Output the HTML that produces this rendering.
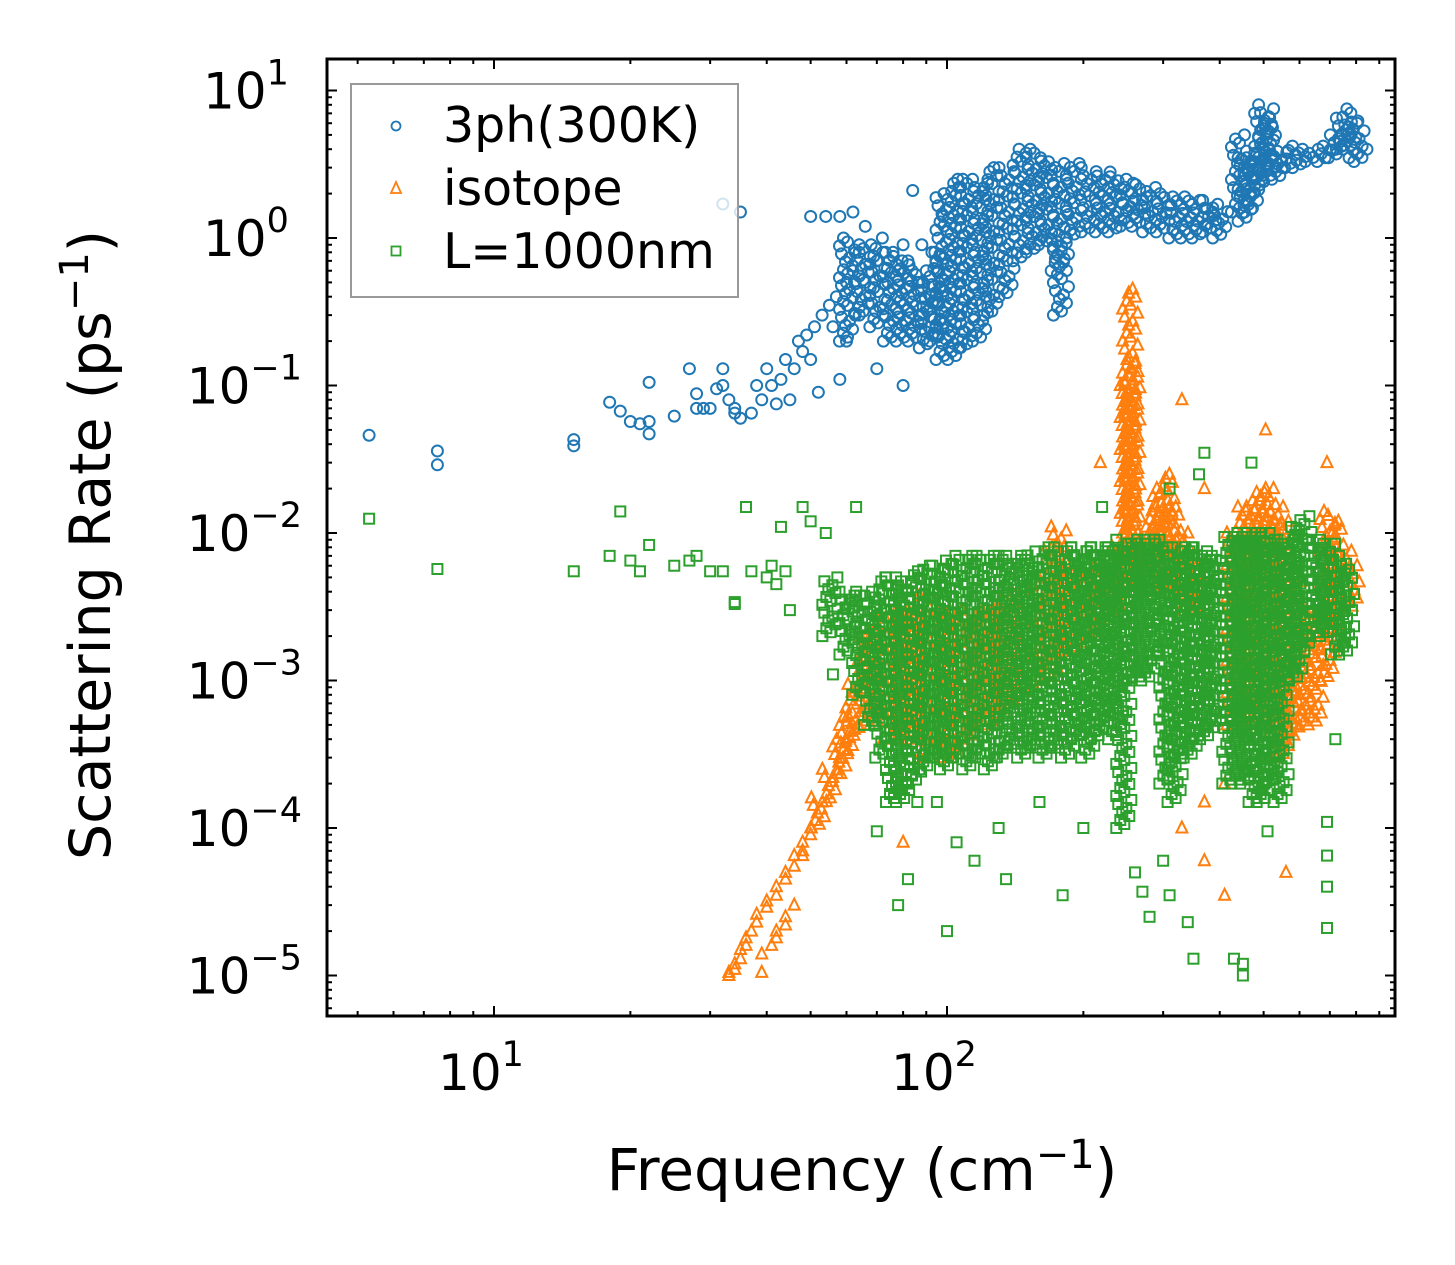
<!DOCTYPE html>
<html><head><meta charset="utf-8"><style>
html,body{margin:0;padding:0;background:#fff}
svg{display:block}
text{font-family:"DejaVu Sans","Liberation Sans",sans-serif;fill:#000}
</style></head><body>
<svg id="chart" width="1455" height="1265" viewBox="0 0 1455 1265" xmlns="http://www.w3.org/2000/svg">
<rect x="0" y="0" width="1455" height="1265" fill="#fff"/>
<g id="marks"></g>
<g id="axes"></g>
<g id="legend">
<rect x="351" y="84" width="387" height="213" fill="#fff" fill-opacity="0.8" stroke="#999" stroke-width="2"/>
<g><circle cx="396" cy="126" r="4.5" fill="none" stroke="#1f77b4" stroke-width="1.8"/><text x="443" y="142" font-size="49">3ph(300K)</text></g>
<g><polygon points="396,182 391,193 401,193" fill="none" stroke="#ff7f0e" stroke-width="1.8"/><text x="443" y="205" font-size="49">isotope</text></g>
<g><rect x="391.5" y="246.5" width="9" height="9" fill="none" stroke="#2ca02c" stroke-width="1.8"/><text x="443" y="268" font-size="49">L=1000nm</text></g>
</g>
<text x="862" y="1190" font-size="58" text-anchor="middle">Frequency (cm<tspan dy="-22" font-size="40">−1</tspan><tspan dy="22">)</tspan></text>
<text transform="translate(110,545) rotate(-90)" font-size="57" text-anchor="middle">Scattering Rate (ps<tspan dy="-22" font-size="40">−1</tspan><tspan dy="22">)</tspan></text>
</svg>
<script>
const xTickDecades = [1, 2];
const yTickDecades = [1, 0, -1, -2, -3, -4, -5];
const xLabels = ["10", "10"];
const yLabels = ["10", "10", "10", "10", "10", "10", "10"];

const blueSparse = [[5.3,0.046],[7.5,0.036],[7.5,0.029],[15,0.043],[15,0.039],[18,0.077],[19,0.067],[20,0.057],[21,0.055],[22,0.047],[22,0.057],[22,0.105],[25,0.062],[27,0.13],[28,0.088],[28,0.07],[29,0.07],[30,0.07],[31,0.095],[32,0.1],[32,0.13],[32,1.7],[33,0.08],[34,0.07],[34,0.065],[35,1.5],[35,0.06],[37,0.065],[38,0.1],[39,0.08],[40,0.13],[41,0.1],[42,0.075],[43,0.11],[44,0.15],[45,0.08],[46,0.13],[47,0.2],[48,0.17],[49,0.22],[50,1.4],[50,0.15],[51,0.25],[52,0.09],[53,0.3],[54,1.4],[55,0.35],[56,0.25],[57,0.4],[58,0.11],[58,1.4],[60,0.5],[60,0.2],[62,0.6],[62,1.5],[64,0.8],[64,0.3],[66,1.2],[66,0.5],[68,0.9],[70,0.7],[70,0.13],[72,1.0],[74,0.5],[76,0.8],[78,0.6],[80,0.1],[80,0.9],[82,0.7],[84,2.1],[86,0.5],[88,0.9],[90,0.6],[92,0.4],[94,0.8],[96,0.5],[98,1.4]];
const blueBands = [[60,0.2,1.0],[65,0.3,0.9],[70,0.25,0.85],[75,0.2,0.8],[80,0.2,0.7],[85,0.2,0.6],[90,0.18,0.5],[95,0.2,0.8],[98,0.15,2.0],[104,0.15,2.5],[110,0.18,2.5],[118,0.2,2.5],[125,0.3,3.0],[135,0.4,3.0],[145,0.7,4.0],[155,0.8,4.0],[165,0.9,3.5],[176,0.6,3.2],[178,0.3,1.0],[190,1.0,3.2],[205,1.1,3.0],[220,1.1,2.8],[235,1.1,2.6],[250,1.2,2.5],[265,1.2,2.3],[280,1.1,2.2],[300,1.1,2.0],[320,1.0,1.9],[340,1.0,1.9],[360,1.0,1.8],[380,1.1,1.8],[400,1.0,1.6],[440,1.5,5.0],[455,1.3,3.5],[470,1.5,3.5],[485,2.0,4.0],[495,2.5,7.0],[505,3.0,8.0],[515,2.5,6.0],[540,2.5,3.8],[570,3.0,4.2],[600,3.0,4.0],[640,3.3,4.0],[680,3.3,4.2],[720,3.5,5.0],[750,4.0,6.5],[775,4.0,7.5],[800,3.5,6.0],[820,3.3,4.0]];

const orangeGroups = [[33,[1.0e-5,1.05e-5]],[34,[1.1e-5,1.2e-5]],[35,[1.3e-5,1.5e-5]],[36,[1.6e-5,1.8e-5]],[37,[2.0e-5]],[38,[2.3e-5,2.6e-5]],[40,[2.9e-5,3.2e-5]],[42,[3.5e-5,4e-5]],[44,[4.5e-5,5e-5]],[46,[5.5e-5,6.5e-5]],[48,[7e-5,8e-5]],[50,[9e-5,1.0e-4]],[39,[1.05e-5,1.4e-5]],[41,[1.6e-5]],[42,[1.8e-5,2.0e-5]],[44,[2.2e-5,2.5e-5]],[46,[3e-5]],[48,[6.5e-5]],[80,[8e-5]],[218,[3e-2]],[330,[1e-4,8e-2]],[370,[6e-5,1.5e-4,2e-2]],[410,[3.5e-5,2e-4]],[505,[5e-2]],[560,[5e-5]],[690,[3e-2]]];
const orangeBands = [[52,1e-4,1.6e-4],[55,1.5e-4,2.5e-4],[58,2.2e-4,4e-4],[60,3e-4,6e-4],[62,4e-4,1e-3],[66,5e-4,2e-3],[70,5e-4,2.5e-3],[75,4e-4,3e-3],[80,4e-4,3e-3],[85,4e-4,3e-3],[90,3e-4,4e-3],[95,3e-4,3e-3],[100,3e-4,3e-3],[106,3e-4,3e-3],[112,4e-4,3e-3],[118,5e-4,3e-3],[125,5e-4,3e-3],[132,6e-4,3.5e-3],[140,7e-4,4e-3],[150,8e-4,4e-3],[160,1e-3,5e-3],[170,1e-3,8e-3],[176,1.5e-3,1.1e-2],[185,1.5e-3,6e-3],[195,1.5e-3,6e-3],[205,2e-3,5e-3],[215,2e-3,6e-3],[230,3e-3,6e-3],[240,3e-3,8e-3],[250,5e-3,0.1],[253,1e-2,0.45],[256,5e-3,0.15],[265,4e-3,8e-3],[275,4e-3,1e-2],[285,4e-3,1.5e-2],[295,4e-3,2e-2],[305,4e-3,2.5e-2],[315,4e-3,1.5e-2],[330,3e-3,1e-2],[345,3e-3,6e-3],[355,3e-3,5e-3],[430,5e-4,1e-2],[450,5e-4,1.5e-2],[470,5e-4,1.5e-2],[490,5e-4,2e-2],[510,5e-4,2e-2],[530,3e-4,1.5e-2],[550,3e-4,1.2e-2],[580,4e-4,5e-3],[610,5e-4,3e-3],[650,5e-4,3e-3],[690,1e-3,1.4e-2],[720,2e-3,1.2e-2],[750,3e-3,8e-3],[780,3e-3,6e-3]];

const greenSparse = [[5.3,0.0125],[7.5,0.0057],[15,0.0055],[18,0.007],[19,0.014],[20,0.0065],[21,0.0055],[22,0.0083],[25,0.006],[27,0.0065],[28,0.007],[30,0.0055],[32,0.0055],[34,0.0034],[34,0.0033],[36,0.015],[37,0.0055],[40,0.005],[41,0.006],[42,0.0045],[43,0.011],[44,0.0055],[45,3e-3],[48,1.5e-2],[50,1.2e-2],[54,1e-2],[56,1.1e-3],[63,1.5e-2],[70,9.5e-5],[78,3e-5],[82,4.5e-5],[86,1.5e-4],[95,1.5e-4],[100,2e-5],[105,8e-5],[115,6e-5],[130,1e-4],[135,4.5e-5],[160,1.5e-4],[180,3.5e-5],[200,1e-4],[220,1.5e-2],[260,5e-5],[270,3.7e-5],[280,2.5e-5],[300,6e-5],[310,3.5e-5],[310,2e-2],[340,2.3e-5],[350,1.3e-5],[360,2.5e-2],[370,3.5e-2],[430,1.3e-5],[450,1.2e-5],[450,1e-5],[470,3e-2],[510,9.5e-5],[690,2.1e-5],[690,4e-5],[690,6.5e-5],[690,1.1e-4],[720,4e-4]];
const greenBands = [[55,2e-3,5e-3],[60,1.5e-3,4e-3],[64,8e-4,4e-3],[68,5e-4,4e-3],[72,3e-4,5e-3],[76,1.5e-4,5e-3],[80,1.5e-4,5e-3],[85,2e-4,5.5e-3],[90,2.5e-4,6e-3],[95,3e-4,6e-3],[100,2.5e-4,6.5e-3],[106,3e-4,7e-3],[112,2.5e-4,7e-3],[118,3e-4,7e-3],[125,2.5e-4,7e-3],[132,3e-4,7e-3],[140,3.5e-4,7e-3],[148,3e-4,7e-3],[156,3.5e-4,7.5e-3],[165,3e-4,8e-3],[175,3.5e-4,8e-3],[185,3e-4,8e-3],[195,4e-4,8e-3],[205,3e-4,8e-3],[215,4e-4,8e-3],[225,5e-4,8e-3],[235,4e-4,8e-3],[245,1e-4,9e-3],[255,1e-3,9e-3],[265,1e-3,9e-3],[278,1e-3,9e-3],[290,1.5e-3,9e-3],[305,2e-4,8e-3],[318,1.5e-4,8e-3],[330,3e-4,8e-3],[345,3e-4,8e-3],[360,4e-4,8e-3],[375,4e-4,7e-3],[390,5e-4,7e-3],[420,2e-4,1e-2],[440,2e-4,1e-2],[460,2e-4,1e-2],[480,1.5e-4,1e-2],[500,1.5e-4,1e-2],[520,2e-4,9e-3],[545,1.5e-4,9e-3],[565,1e-3,9e-3],[590,1e-3,1.1e-2],[612,1.5e-3,1.3e-2],[650,2e-3,9e-3],[690,2e-3,9e-3],[730,1.5e-3,7e-3],[760,1.5e-3,6e-3]];

const NS = "http://www.w3.org/2000/svg";
const X0 = 494, XD = 453, Y0 = 238, YD = 147.5;
const L = 327, R = 1395, T = 59, B = 1016;
const OFFS = [-7, 1, -3, 6, -1, 3, -5, 8];
function xs(f){ return X0 + XD*(Math.log10(f) - 1); }
function ys(v){ return Y0 - YD*Math.log10(v); }
function flatGroups(groups){
  const out = [];
  groups.forEach(g => g[1].forEach(v => out.push([g[0], v])));
  return out;
}
const marks = document.getElementById('marks');
const axes = document.getElementById('axes');
function mk(tag, attrs, parent){
  const e = document.createElementNS(NS, tag);
  for (const k in attrs) e.setAttribute(k, attrs[k]);
  parent.appendChild(e);
  return e;
}
function bandPixels(bands){
  const out = [];
  bands.forEach(b => {
    const x = xs(b[0]), y1 = ys(b[1]), y2 = ys(b[2]);
    const n = Math.max(1, Math.round((y1 - y2) / 4));
    for (let i = 0; i <= n; i++) {
      out.push([x + OFFS[i % OFFS.length], y1 + (y2 - y1) * i / n]);
    }
  });
  return out;
}
function pointPixels(pts){ return pts.map(p => [xs(p[0]), ys(p[1])]); }

const bg = mk('g', {}, marks);


pointPixels(blueSparse).concat(bandPixels(blueBands)).forEach(p => {
  const c = mk('circle', {cx: p[0], cy: p[1], r: 5.5, fill: 'none', stroke: '#1f77b4', 'stroke-width': 2}, bg);
  
  
});
const og = mk('g', {}, marks);


pointPixels(flatGroups(orangeGroups)).concat(bandPixels(orangeBands)).forEach(p => {
  const x = p[0], y = p[1];
  const t = mk('polygon', {points: `${x},${y-6.5} ${x-5.5},${y+4.5} ${x+5.5},${y+4.5}`, fill: 'none', stroke: '#ff7f0e', 'stroke-width': 2}, og);
  
  
});
const gg = mk('g', {}, marks);


pointPixels(greenSparse).concat(bandPixels(greenBands)).forEach(p => {
  const x = p[0], y = p[1];
  const s = mk('rect', {x: x-5, y: y-5, width: 10, height: 10, fill: 'none', stroke: '#2ca02c', 'stroke-width': 2}, gg);
  
  
});
const fr = mk('rect', {x: L, y: T, width: R-L, height: B-T, fill: 'none', stroke: '#000', 'stroke-width': 3}, axes);


for (let d = 0; d <= 3; d++) {
  for (let m = 1; m <= 9; m++) {
    const x = xs(m * Math.pow(10, d));
    if (x < L || x > R) continue;
    const len = m === 1 ? 10 : 5;
    const a = mk('line', {x1: x, x2: x, y1: B, y2: B-len, stroke: '#000', 'stroke-width': 2}, axes);
    
    
    const b = mk('line', {x1: x, x2: x, y1: T, y2: T+len, stroke: '#000', 'stroke-width': 2}, axes);
    
    
  }
}
for (let d = -6; d <= 1; d++) {
  for (let m = 1; m <= 9; m++) {
    const y = ys(m * Math.pow(10, d));
    if (y < T || y > B) continue;
    const len = m === 1 ? 10 : 5;
    const a = mk('line', {x1: L, x2: L+len, y1: y, y2: y, stroke: '#000', 'stroke-width': 2}, axes);
    
    
    const b = mk('line', {x1: R, x2: R-len, y1: y, y2: y, stroke: '#000', 'stroke-width': 2}, axes);
    
    
  }
}
xTickDecades.forEach((d, i) => {
  const t = mk('text', {x: xs(Math.pow(10, d)) - 13, y: 1090, 'font-size': 50, 'text-anchor': 'middle'}, axes);
  
  
  t.textContent = xLabels[i];
  const s = mk('tspan', {dy: -24, 'font-size': 35}, t);
  s.textContent = String(d);
});
yTickDecades.forEach((d, i) => {
  const y = ys(Math.pow(10, d));
  const attrs = d < 0 ? {x: 302, y: y + 18, 'font-size': 50, 'text-anchor': 'end'} : {x: 203, y: y + 18, 'font-size': 50};
  const t = mk('text', attrs, axes);
  
  
  t.textContent = yLabels[i];
  const s = mk('tspan', {dy: -24, 'font-size': 35}, t);
  s.textContent = d < 0 ? '−' + (-d) : String(d);
});
</script>
</body></html>
